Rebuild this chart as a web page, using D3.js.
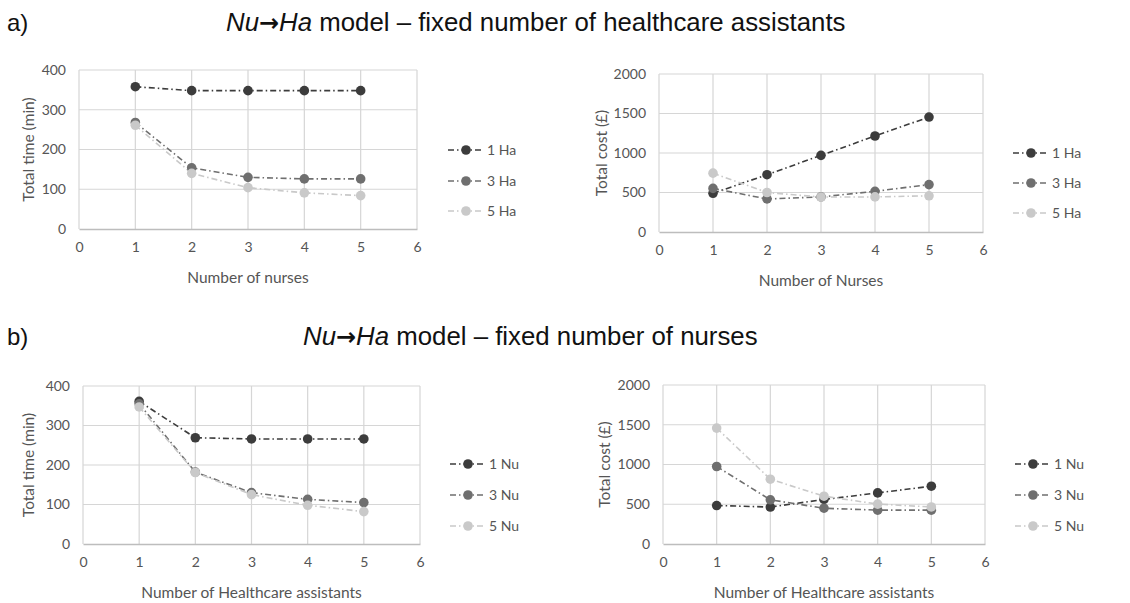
<!DOCTYPE html>
<html>
<head>
<meta charset="utf-8">
<script src="https://cdn.jsdelivr.net/npm/d3@7"></script>
<style>
  html, body { margin: 0; padding: 0; background: #fff; }
  svg { display: block; }
</style>
</head>
<body>
<svg id="chart" width="1130" height="603"></svg>
<script>
// ---------- DATA ----------
const xValues = [1, 2, 3, 4, 5];
const xTicks = [0, 1, 2, 3, 4, 5, 6];
const timeTicks = [0, 100, 200, 300, 400];
const costTicks = [0, 500, 1000, 1500, 2000];

const seriesNamesHa = ["1 Ha", "3 Ha", "5 Ha"];
const seriesNamesNu = ["1 Nu", "3 Nu", "5 Nu"];
const seriesColors = ["#3c3c3c", "#6f6f6f", "#c9c9c9"];

// a) fixed number of healthcare assistants (x = number of nurses)
const timeA_1Ha = [358, 348, 348, 348, 348];
const timeA_3Ha = [268, 154, 130, 126, 126];
const timeA_5Ha = [261, 140, 104, 91, 84];
const costA_1Ha = [490, 725, 970, 1215, 1455];
const costA_3Ha = [552, 418, 444, 515, 600];
const costA_5Ha = [745, 500, 442, 444, 458];

// b) fixed number of nurses (x = number of healthcare assistants)
const timeB_1Nu = [361, 269, 266, 266, 266];
const timeB_3Nu = [355, 182, 130, 113, 105];
const timeB_5Nu = [347, 181, 125, 98, 82];
const costB_1Nu = [484, 465, 560, 643, 727];
const costB_3Nu = [975, 556, 450, 426, 426];
const costB_5Nu = [1458, 815, 601, 502, 466];

const titleA = ["Nu", "\u2192", "Ha", " model \u2013 fixed number of healthcare assistants"];
const titleB = ["Nu", "\u2192", "Ha", " model \u2013 fixed number of nurses"];

// ---------- DRAW ----------
const svg = d3.select("#chart");
const tickFont = "Lato, 'Open Sans', sans-serif";

function drawTitle(label, parts, labelX, textX, baseY) {
  svg.append("text").attr("x", labelX).attr("y", baseY)
    .attr("font-family", "'Liberation Sans', Arial, sans-serif")
    .attr("font-size", 24).attr("fill", "#111").text(label);
  const t = svg.append("text").attr("x", textX).attr("y", baseY)
    .attr("font-family", "'Liberation Sans', Arial, sans-serif")
    .attr("font-size", 25.8).attr("fill", "#111");
  t.append("tspan").attr("font-style", "italic").text(parts[0]);
  t.append("tspan").attr("font-family", "'DejaVu Sans', sans-serif").attr("font-weight", "bold")
    .attr("font-size", 24).text(parts[1]);
  t.append("tspan").attr("font-style", "italic").text(parts[2]);
  t.append("tspan").text(parts[3]);
}

function drawPanel(cfg) {
  const x = d3.scaleLinear().domain([0, 6]).range([cfg.x0, cfg.x1]);
  const y = d3.scaleLinear().domain([0, cfg.yMax]).range([cfg.y1, cfg.y0]);
  const g = svg.append("g");

  // gridlines
  g.append("g").selectAll("line.h").data(cfg.yTicks.slice(1)).join("line")
    .attr("x1", cfg.x0).attr("x2", cfg.x1)
    .attr("y1", d => y(d)).attr("y2", d => y(d))
    .attr("stroke", "#d6d6d6").attr("stroke-width", 1.2);
  g.append("g").selectAll("line.v").data(xTicks).join("line")
    .attr("x1", d => x(d)).attr("x2", d => x(d))
    .attr("y1", cfg.y0).attr("y2", cfg.y1)
    .attr("stroke", "#d6d6d6").attr("stroke-width", 1.2);

  // bottom axis
  const xAxis = d3.axisBottom(x).tickValues(xTicks).tickSize(0).tickPadding(13).tickFormat(d3.format("d"));
  const ax = g.append("g").attr("transform", `translate(0,${cfg.y1})`).call(xAxis);
  ax.select(".domain").attr("stroke", "#bdbdbd").attr("stroke-width", 1.4);
  ax.selectAll("text").attr("font-family", tickFont).attr("font-size", 14).attr("fill", "#555");

  const yAxis = d3.axisLeft(y).tickValues(cfg.yTicks).tickSize(0).tickPadding(cfg.yPad).tickFormat(d3.format("d"));
  const ay = g.append("g").attr("transform", `translate(${cfg.x0},0)`).call(yAxis);
  ay.select(".domain").remove();
  ay.selectAll("text").attr("font-family", tickFont).attr("font-size", 14).attr("fill", "#555");

  // axis titles
  g.append("text").attr("x", (cfg.x0 + cfg.x1) / 2).attr("y", cfg.xTitleY)
    .attr("text-anchor", "middle").attr("font-family", tickFont).attr("font-size", 15.5)
    .attr("fill", "#555").text(cfg.xTitle);
  g.append("text").attr("transform", `translate(${cfg.yTitleX},${(cfg.y0 + cfg.y1) / 2}) rotate(-90)`)
    .attr("text-anchor", "middle").attr("font-family", tickFont).attr("font-size", 15.5)
    .attr("fill", "#555").text(cfg.yTitle);

  const line = d3.line().x((d, i) => x(xValues[i])).y(d => y(d));
  cfg.series.forEach((s, si) => {
    g.append("path").attr("d", line(s)).attr("fill", "none")
      .attr("stroke", seriesColors[si]).attr("stroke-width", 1.6)
      .attr("stroke-dasharray", "6,3,1.5,3");
  });
  cfg.series.forEach((s, si) => {
    g.append("g").selectAll("circle").data(s).join("circle")
      .attr("cx", (d, i) => x(xValues[i])).attr("cy", d => y(d)).attr("r", 4.8)
      .attr("fill", seriesColors[si]);
  });

  // legend
  cfg.names.forEach((n, si) => {
    const ly = cfg.legY[si];
    g.append("line").attr("x1", cfg.legX).attr("x2", cfg.legX + 35)
      .attr("y1", ly).attr("y2", ly).attr("stroke", seriesColors[si])
      .attr("stroke-width", 1.6).attr("stroke-dasharray", "6,3,1.5,3");
    g.append("circle").attr("cx", cfg.legX + 18).attr("cy", ly).attr("r", 4.8).attr("fill", seriesColors[si]);
    g.append("text").attr("x", cfg.legX + 39).attr("y", ly + 5)
      .attr("font-family", tickFont).attr("font-size", 14).attr("fill", "#555").text(n);
  });
}

drawTitle("a)", titleA, 7, 226, 31);
drawTitle("b)", titleB, 7, 303, 345);

drawPanel({ x0: 79, x1: 417, y0: 70, y1: 229, yMax: 400, yTicks: timeTicks, yPad: 13,
  series: [timeA_1Ha, timeA_3Ha, timeA_5Ha], names: seriesNamesHa,
  xTitle: "Number of nurses", xTitleY: 283, yTitle: "Total time (min)", yTitleX: 34,
  legX: 448, legY: [150, 181, 211] });
drawPanel({ x0: 659, x1: 983, y0: 74, y1: 232, yMax: 2000, yTicks: costTicks, yPad: 13,
  series: [costA_1Ha, costA_3Ha, costA_5Ha], names: seriesNamesHa,
  xTitle: "Number of Nurses", xTitleY: 286, yTitle: "Total cost (\u00a3)", yTitleX: 607,
  legX: 1013, legY: [153, 183, 213] });
drawPanel({ x0: 83, x1: 420, y0: 386, y1: 544, yMax: 400, yTicks: timeTicks, yPad: 13,
  series: [timeB_1Nu, timeB_3Nu, timeB_5Nu], names: seriesNamesNu,
  xTitle: "Number of Healthcare assistants", xTitleY: 598, yTitle: "Total time (min)", yTitleX: 34,
  legX: 450, legY: [464, 495, 526] });
drawPanel({ x0: 663, x1: 985, y0: 385, y1: 544, yMax: 2000, yTicks: costTicks, yPad: 13,
  series: [costB_1Nu, costB_3Nu, costB_5Nu], names: seriesNamesNu,
  xTitle: "Number of Healthcare assistants", xTitleY: 598, yTitle: "Total cost (\u00a3)", yTitleX: 610,
  legX: 1015, legY: [464, 495, 526] });
</script>
</body>
</html>
